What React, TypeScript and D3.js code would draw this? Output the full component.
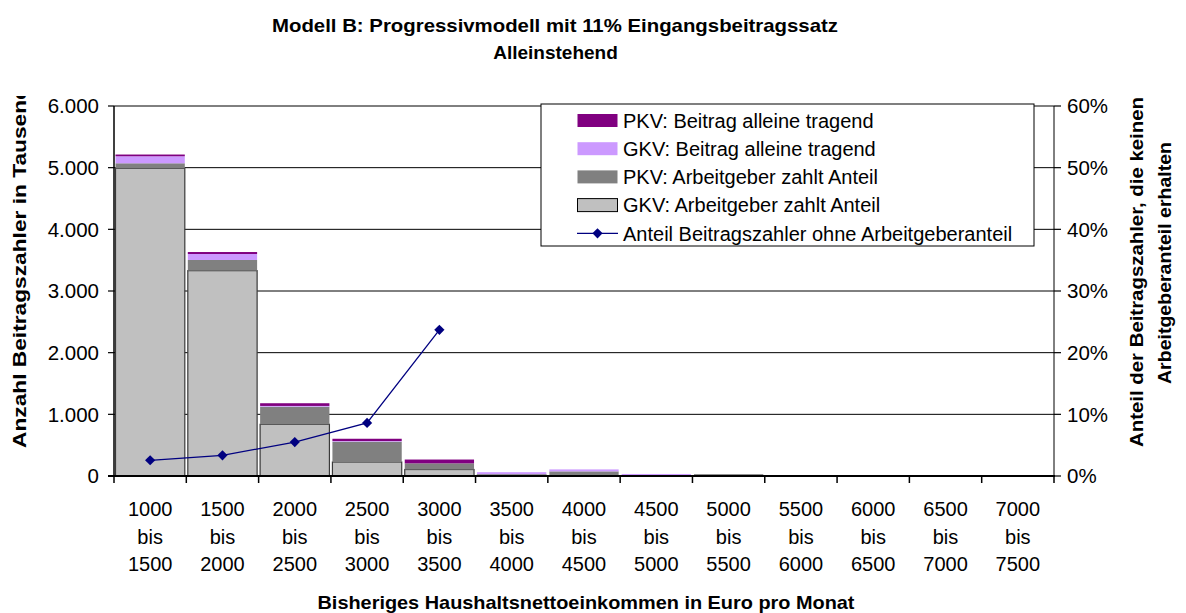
import React from "react";
import * as d3 from "d3";

const lowerBounds = ["1000", "1500", "2000", "2500", "3000", "3500", "4000", "4500", "5000", "5500", "6000", "6500", "7000"];
const upperBounds = ["1500", "2000", "2500", "3000", "3500", "4000", "4500", "5000", "5500", "6000", "6500", "7000", "7500"];

// values in thousands
const gkvArbeitgeber = [4990, 3330, 838, 227, 105, 10, 5, 5, 5, 0, 0, 0, 0];
const pkvArbeitgeber = [81, 173, 286, 330, 100, 20, 70, 10, 25, 0, 0, 0, 0];
const gkvAlleine = [114, 97, 12, 10, 0, 32, 32, 18, 0, 0, 0, 0, 0];
const pkvAlleine = [28, 32, 44, 37, 62, 0, 0, 0, 0, 0, 0, 0, 0];
// percent share without employer contribution
const anteilOhneAG: (number | null)[] = [2.55, 3.35, 5.5, 8.6, 23.7, null, null, null, null, null, null, null, null];

const leftTicks = [0, 1000, 2000, 3000, 4000, 5000, 6000];
const rightTicks = [0, 10, 20, 30, 40, 50, 60];

const seriesNames = [
  "PKV: Beitrag alleine tragend",
  "GKV: Beitrag alleine tragend",
  "PKV: Arbeitgeber zahlt Anteil",
  "GKV: Arbeitgeber zahlt Anteil",
  "Anteil Beitragszahler ohne Arbeitgeberanteil",
];

const COLORS = {
  pkvAlleine: "#800080",
  gkvAlleine: "#CC99FF",
  pkvAG: "#808080",
  gkvAG: "#C0C0C0",
  line: "#000080",
};

const FONT = "'Liberation Sans', Arial, sans-serif";

export default function App() {
  const W = 1186;
  const H = 613;
  const left = 114;
  const right = 1054;
  const top = 106;
  const bottom = 476;

  const idx = lowerBounds.map((_, i) => i);
  const x = d3.scaleBand<number>().domain(idx).range([left, right]).padding(0);
  const y = d3.scaleLinear().domain([0, 6000]).range([bottom, top]);
  const y2 = d3.scaleLinear().domain([0, 60]).range([bottom, top]);

  const fmt = (v: number) => (v === 0 ? "0" : d3.format(",")(v).replace(/,/g, "."));

  const stackKeys = ["gkvAG", "pkvAG", "gkvAlleine", "pkvAlleine"] as const;
  const rows = idx.map((i) => ({
    gkvAG: gkvArbeitgeber[i],
    pkvAG: pkvArbeitgeber[i],
    gkvAlleine: gkvAlleine[i],
    pkvAlleine: pkvAlleine[i],
  }));
  const stacked = d3.stack<any>().keys(stackKeys as any)(rows);

  const lineGen = d3
    .line<number | null>()
    .defined((d) => d != null)
    .x((_, i) => (x(i) as number) + x.bandwidth() / 2)
    .y((d) => y2(d as number));

  const diamond = d3.symbol().type(d3.symbolSquare).size(52)();

  const legendX = 541;
  const legendY = 104;
  const legendW = 493;
  const legendH = 142;
  const rowY = (i: number) => 120.5 + i * 28.2;

  return (
    <svg width={W} height={H} style={{ position: "absolute", left: 0, top: 0, background: "#fff" }} fontFamily={FONT}>
      <defs>
        <clipPath id="ytitleclip">
          <rect x={0} y={96} width={60} height={400} />
        </clipPath>
      </defs>
      <rect x={0} y={0} width={W} height={H} fill="#fff" />

      {/* Title */}
      <text x={555} y={32} textAnchor="middle" fontWeight="bold" fontSize={19} textLength={566} lengthAdjust="spacingAndGlyphs">
        Modell B: Progressivmodell mit 11% Eingangsbeitragssatz
      </text>
      <text x={555.5} y={59} textAnchor="middle" fontWeight="bold" fontSize={19}>
        Alleinstehend
      </text>

      {/* gridlines */}
      {leftTicks.filter((t) => t > 0).map((t) => (
        <line key={t} x1={left} x2={right} y1={y(t)} y2={y(t)} stroke="#000" strokeWidth={1} />
      ))}

      {/* bars */}
      {stacked.map((s) => {
        const key = s.key as string;
        return (
          <g key={key}>
            {s.map((d, i) => {
              const h = y(d[0]) - y(d[1]);
              if (h <= 0) return null;
              const x0 = (x(i) as number) + 1.5;
              const w = x.bandwidth() - 3;
              if (key === "gkvAG") {
                return (
                  <rect key={i} x={x0} y={y(d[1])} width={w} height={h} fill={COLORS.gkvAG} stroke="#3a3a3a" strokeWidth={1.2} />
                );
              }
              return <rect key={i} x={x0} y={y(d[1])} width={w} height={h} fill={(COLORS as any)[key]} />;
            })}
          </g>
        );
      })}

      {/* axes */}
      <line x1={left} x2={left} y1={top} y2={bottom} stroke="#000" strokeWidth={1.5} />
      <line x1={right} x2={right} y1={top} y2={bottom} stroke="#000" strokeWidth={1} />
      <line x1={left - 6} x2={right + 1} y1={bottom} y2={bottom} stroke="#000" strokeWidth={2} />

      {leftTicks.map((t) => (
        <g key={"l" + t}>
          <line x1={left - 6} x2={left} y1={y(t)} y2={y(t)} stroke="#000" strokeWidth={1.2} />
          <text x={99} y={y(t)} dy="0.36em" textAnchor="end" fontSize={20.5}>
            {fmt(t)}
          </text>
        </g>
      ))}
      {rightTicks.map((t) => (
        <g key={"r" + t}>
          <line x1={right} x2={right + 7} y1={y2(t)} y2={y2(t)} stroke="#000" strokeWidth={1.2} />
          <text x={1067} y={y2(t)} dy="0.36em" textAnchor="start" fontSize={20.5}>
            {t + "%"}
          </text>
        </g>
      ))}

      {/* x ticks */}
      {idx.concat([lowerBounds.length]).map((i) => {
        const xx = i < lowerBounds.length ? (x(i) as number) : right;
        return <line key={"xt" + i} x1={xx} x2={xx} y1={bottom} y2={bottom + 7} stroke="#000" strokeWidth={1.5} />;
      })}
      {idx.map((i) => {
        const cx = (x(i) as number) + x.bandwidth() / 2;
        return (
          <g key={"xl" + i} fontSize={20} textAnchor="middle">
            <text x={cx} y={516}>{lowerBounds[i]}</text>
            <text x={cx} y={544}>bis</text>
            <text x={cx} y={571}>{upperBounds[i]}</text>
          </g>
        );
      })}

      {/* line series */}
      <path d={lineGen(anteilOhneAG) || ""} fill="none" stroke={COLORS.line} strokeWidth={1.3} />
      {anteilOhneAG.map((v, i) =>
        v == null ? null : (
          <path
            key={"m" + i}
            d={diamond || ""}
            fill={COLORS.line}
            transform={`translate(${(x(i) as number) + x.bandwidth() / 2},${y2(v)}) rotate(45)`}
          />
        )
      )}

      {/* legend */}
      <rect x={legendX} y={legendY} width={legendW} height={legendH} fill="#fff" stroke="#000" strokeWidth={1} />
      {[COLORS.pkvAlleine, COLORS.gkvAlleine, COLORS.pkvAG, COLORS.gkvAG].map((c, i) => (
        <rect
          key={"ls" + i}
          x={577.5}
          y={rowY(i) - 6.5}
          width={40}
          height={13}
          fill={c}
          stroke={i === 3 ? "#000" : "none"}
          strokeWidth={1}
        />
      ))}
      <line x1={577} x2={618} y1={rowY(4)} y2={rowY(4)} stroke={COLORS.line} strokeWidth={1.3} />
      <path d={diamond || ""} fill={COLORS.line} transform={`translate(597.5,${rowY(4)}) rotate(45)`} />
      {seriesNames.map((n, i) => (
        <text key={"lt" + i} x={623} y={rowY(i)} dy="0.36em" fontSize={20}>
          {n}
        </text>
      ))}

      {/* axis titles */}
      <text
        x={586}
        y={609}
        textAnchor="middle"
        fontWeight="bold"
        fontSize={18.5}
        textLength={537}
        lengthAdjust="spacingAndGlyphs"
      >
        Bisheriges Haushaltsnettoeinkommen in Euro pro Monat
      </text>
      <g clipPath="url(#ytitleclip)">
        <text
          transform="translate(26,448) rotate(-90)"
          x={0}
          y={0}
          textAnchor="start"
          fontWeight="bold"
          fontSize={19}
          textLength={362}
          lengthAdjust="spacingAndGlyphs"
        >
          Anzahl Beitragszahler in Tausend
        </text>
      </g>
      <text
        transform="translate(1143,272) rotate(-90)"
        textAnchor="middle"
        fontWeight="bold"
        fontSize={19}
        textLength={350}
        lengthAdjust="spacingAndGlyphs"
      >
        Anteil der Beitragszahler, die keinen
      </text>
      <text
        transform="translate(1171,263) rotate(-90)"
        textAnchor="middle"
        fontWeight="bold"
        fontSize={19}
        textLength={242}
        lengthAdjust="spacingAndGlyphs"
      >
        Arbeitgeberanteil erhalten
      </text>
    </svg>
  );
}
